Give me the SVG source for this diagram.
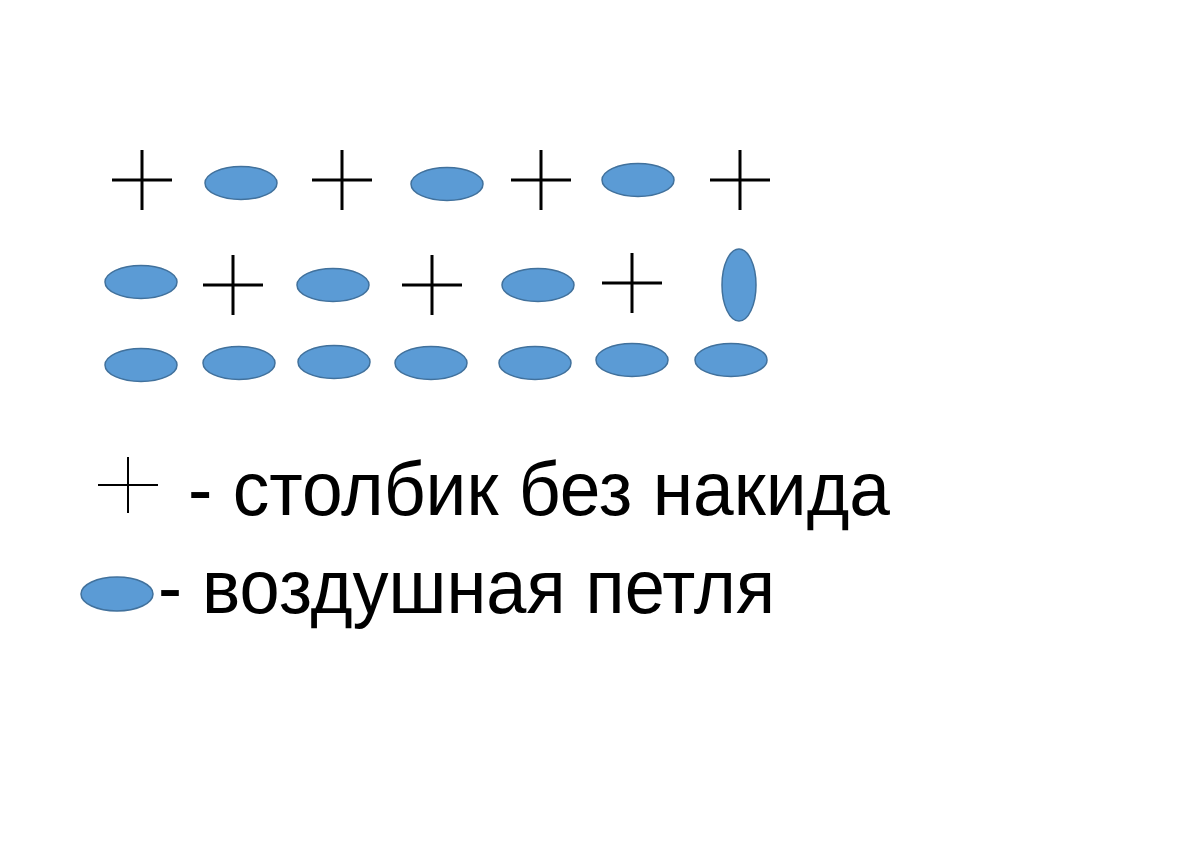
<svg xmlns="http://www.w3.org/2000/svg" width="1200" height="849" viewBox="0 0 1200 849">
<style>
.c{stroke:#000;stroke-width:3;fill:none}
.cl{stroke:#000;stroke-width:2;fill:none}
.e{fill:#5B9BD5;stroke:#41719C;stroke-width:1.5}
.t{font-family:"Liberation Sans",Arial,sans-serif;font-size:76px;fill:#000}
</style>
<defs>
<g id="cross"><path class="c" d="M-30 0H30M0 -30V30"/></g>
<ellipse id="ov" class="e" cx="0" cy="0" rx="36" ry="16.5"/>
</defs>
<rect width="1200" height="849" fill="#fff"/>
<g id="row1">
<use href="#cross" x="142" y="180"/>
<use href="#ov" x="241" y="183"/>
<use href="#cross" x="342" y="180"/>
<use href="#ov" x="447" y="184"/>
<use href="#cross" x="541" y="180"/>
<use href="#ov" x="638" y="180"/>
<use href="#cross" x="740" y="180"/>
</g>
<g id="row2">
<use href="#ov" x="141" y="282"/>
<use href="#cross" x="233" y="285"/>
<use href="#ov" x="333" y="285"/>
<use href="#cross" x="432" y="285"/>
<use href="#ov" x="538" y="285"/>
<use href="#cross" x="632" y="283"/>
<ellipse class="e" cx="739" cy="285" rx="17" ry="36"/>
</g>
<g id="row3">
<use href="#ov" x="141" y="365"/>
<use href="#ov" x="239" y="363"/>
<use href="#ov" x="334" y="362"/>
<use href="#ov" x="431" y="363"/>
<use href="#ov" x="535" y="363"/>
<use href="#ov" x="632" y="360"/>
<use href="#ov" x="731" y="360"/>
</g>
<g id="legend1">
<path class="cl" d="M98 485H158M128 457V513"/>
<text class="t" x="188" y="515" textLength="702" lengthAdjust="spacingAndGlyphs">- столбик без накида</text>
</g>
<g id="legend2">
<ellipse class="e" cx="117" cy="594" rx="36" ry="17"/>
<text class="t" x="158" y="613" textLength="617" lengthAdjust="spacingAndGlyphs">- воздушная петля</text>
</g>
</svg>
